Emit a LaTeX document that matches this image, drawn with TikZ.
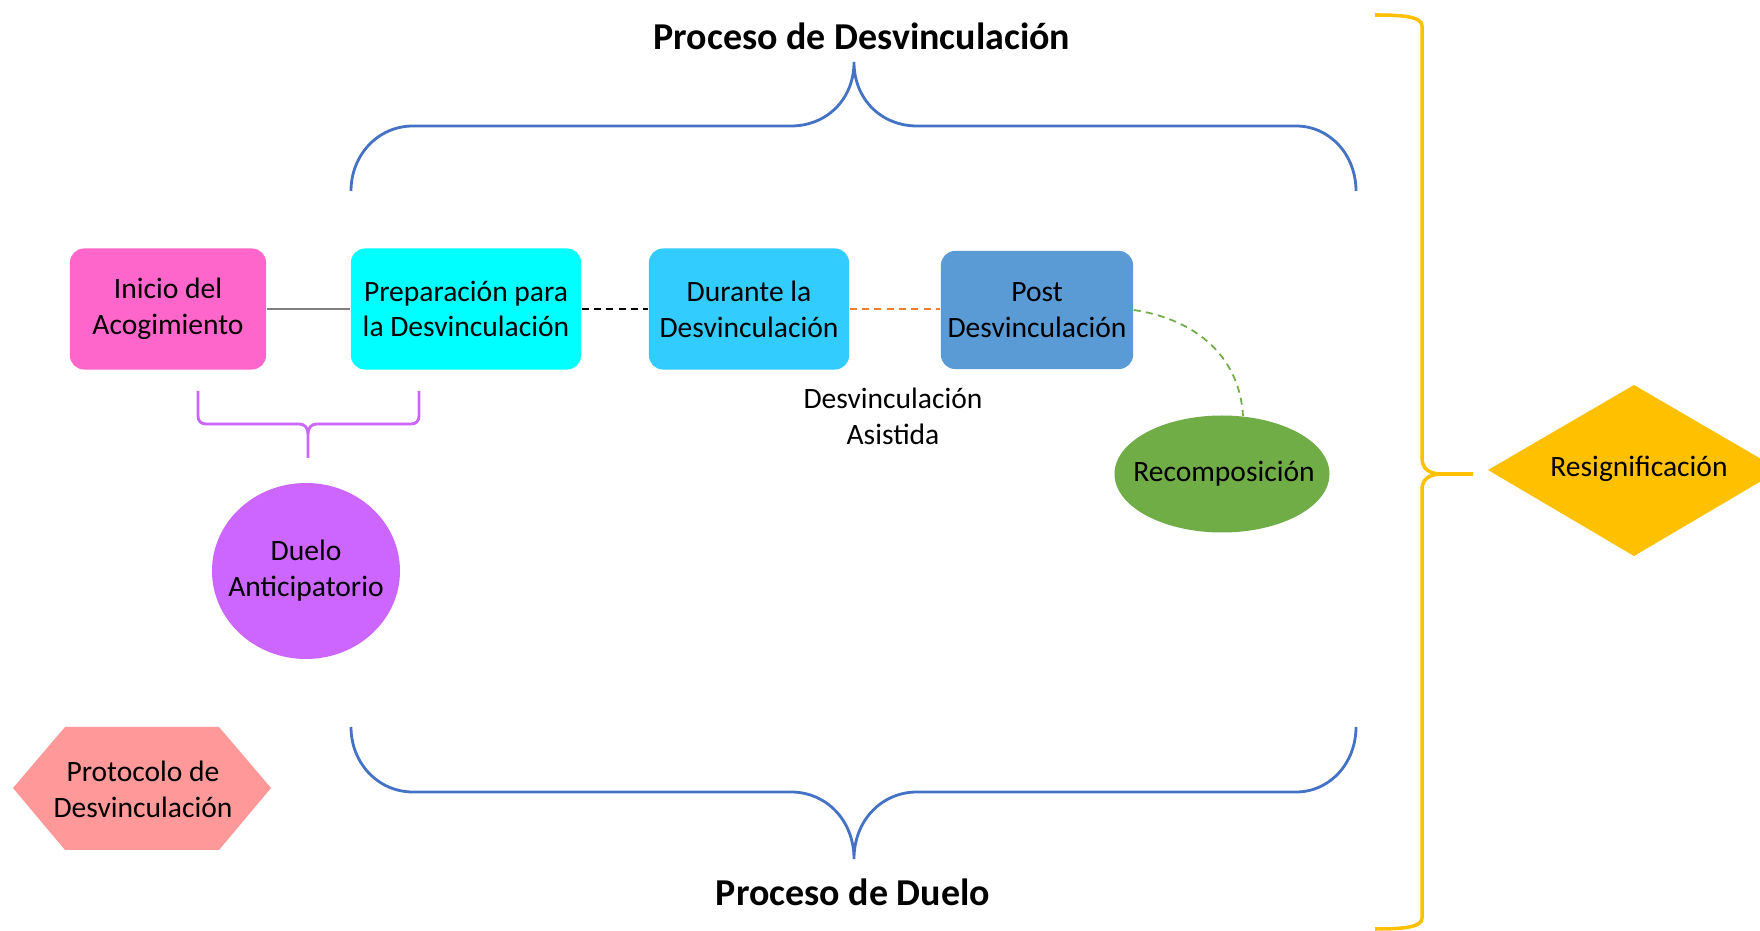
\documentclass[tikz,border=0pt]{standalone}
\usepackage{fontspec}
\setmainfont{Carlito}
\usetikzlibrary{shapes.geometric}
\definecolor{cPink}{HTML}{FF66CC}
\definecolor{cCyan}{HTML}{00FFFF}
\definecolor{cSky}{HTML}{33CCFF}
\definecolor{cPost}{HTML}{5B9BD5}
\definecolor{cGreen}{HTML}{70AD47}
\definecolor{cViolet}{HTML}{CC66FF}
\definecolor{cSalmon}{HTML}{FF9999}
\definecolor{cGold}{HTML}{FFC000}
\definecolor{cBlue}{HTML}{4472C4}
\definecolor{cOrange}{HTML}{ED7D31}
\definecolor{cGray}{HTML}{7F7F7F}
\newcommand\nfont{\fontsize{8.4}{10.2}\selectfont}
\newcommand\tfont{\fontsize{10.8}{13}\selectfont\bfseries}
\begin{document}
\begin{tikzpicture}[x=0.01cm,y=-0.01cm,
  stagebox/.style={rectangle, rounded corners=4pt, inner sep=0pt, align=center, font=\nfont, text=black},
  plainlabel/.style={inner sep=0pt, align=center, font=\nfont, text=black},
  titlelabel/.style={inner sep=0pt, align=center, font=\tfont, text=black},
  bluebrace/.style={draw=cBlue, line width=0.8pt},
  dashline/.style={line width=0.5pt, dash pattern=on 2pt off 1.5pt}
]
\clip (0,0) rectangle (1760,931);
\fill[white] (0,0) rectangle (1760,931);

% braces
\draw[bluebrace] (351,191) .. controls (351,155) and (378,126) .. (413,126) -- (791,126)
  .. controls (826,126) and (854,100) .. (854,62)
  .. controls (854,100) and (882,126) .. (917,126) -- (1296,126)
  .. controls (1330,126) and (1356,155) .. (1356,191);
\draw[bluebrace] (351,727) .. controls (351,763) and (378,792) .. (413,792) -- (791,792)
  .. controls (826,792) and (854,820) .. (854,859)
  .. controls (854,820) and (882,792) .. (917,792) -- (1296,792)
  .. controls (1330,792) and (1356,763) .. (1356,727);
\draw[draw=cViolet, line width=0.8pt] (198,391) -- (198,416) .. controls (198,421) and (201,424) .. (206,424) -- (299,424)
  .. controls (305,424) and (308,428) .. (308,434) -- (308,458);
\draw[draw=cViolet, line width=0.8pt] (419,391) -- (419,416) .. controls (419,421) and (416,424) .. (411,424) -- (317,424)
  .. controls (311,424) and (308,428) .. (308,434);
\draw[draw=cGold, line width=1pt] (1375,15) .. controls (1405,15) and (1422,17) .. (1422,26) -- (1422,458)
  .. controls (1422,468) and (1428,474) .. (1442,474) -- (1473,474);
\draw[draw=cGold, line width=1pt] (1375,929) .. controls (1405,929) and (1422,927) .. (1422,918) -- (1422,490)
  .. controls (1422,480) and (1428,474) .. (1442,474);

% titles
\node[titlelabel] (ttop) at (862,36) {Proceso de Desvinculación};
\node[titlelabel] (tbot) at (853,892) {Proceso de Duelo};

% stages
\node[stagebox, fill=cPink, minimum width=1.96cm, minimum height=1.21cm] (inicio) at (168,309) {Inicio del\\Acogimiento};
\node[stagebox, fill=cCyan, minimum width=2.30cm, minimum height=1.21cm] (prep) at (466,309) {Preparación para\\la Desvinculación};
\node[stagebox, fill=cSky, minimum width=2.00cm, minimum height=1.21cm] (durante) at (749,309) {Durante la\\Desvinculación};
\node[stagebox, fill=cPost, minimum width=1.92cm, minimum height=1.18cm] (post) at (1037,310) {Post\\Desvinculación};

% ellipses and diamond drawn as shapes, with text nodes on them
\fill[cGreen] (1222,474) ellipse [x radius=107.5, y radius=58.5];
\node[plainlabel] (recomp) at (1224,474) {Recomposición};
\coordinate (recomptop) at (1243,416);
\fill[cViolet] (306,571) ellipse [x radius=94, y radius=88];
\node[plainlabel] (duelo) at (306,571) {Duelo\\Anticipatorio};
\fill[cGold] (1488,470) -- (1634,385) -- (1780,470) -- (1634,556) -- cycle;
\node[plainlabel] (resig) at (1639,469) {Resignificación};

\fill[cSalmon] (13,788) -- (65,727) -- (219,727) -- (271,788) -- (219,850) -- (65,850) -- cycle;
\node[plainlabel] (protocolo) at (143,789) {Protocolo de\\Desvinculación};

\node[plainlabel] (asistida) at (893,416) {Desvinculación\\Asistida};

% connectors
\draw[draw=cGray, line width=0.7pt] (inicio.east) -- (prep.west);
\draw[dashline, draw=black] (prep.east) -- (durante.west);
\draw[dashline, draw=cOrange] (durante.east) -- (durante.east -| post.west);
\draw[dashline, draw=cGreen] (post.east) .. controls (1200,320) and (1240,360) .. (recomptop);
\end{tikzpicture}
\end{document}
